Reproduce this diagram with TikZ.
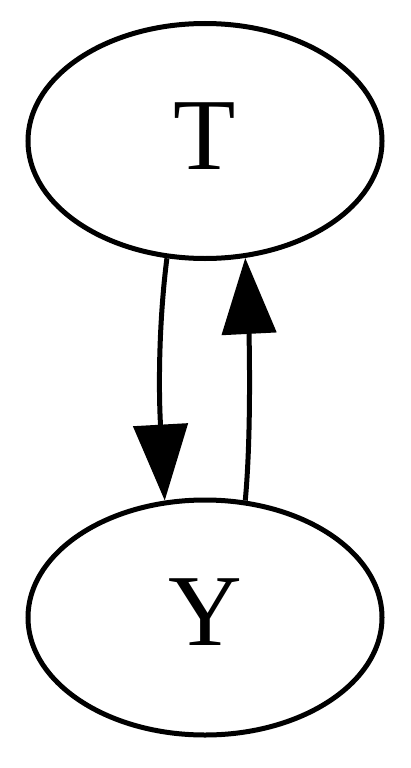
\documentclass[tikz,border=0pt]{standalone}
\usepackage{fontspec}
\setmainfont{Liberation Serif}
\usetikzlibrary{arrows.meta,shapes.geometric}
\begin{document}
\begin{tikzpicture}[x=1pt,y=-1pt,
  vnode/.style={ellipse,draw,line width=5pt,inner sep=0pt,minimum width=354pt,minimum height=235pt,
    font=\fontsize{102}{102}\selectfont,text depth=10pt},
  edge/.style={line width=5pt,-{Triangle[length=76pt,width=54pt]}}]
\useasboundingbox (0,0) rectangle (410,768);
\node[vnode] (T) at (205,141) {T};
\node[vnode] (Y) at (205,617.5) {Y};
\draw[edge] (T.-108.2) .. controls (159,320) and (158,390) .. (161,433) -- (Y.109);
\draw[edge] (Y.71.2) .. controls (250,450) and (250,380) .. (249,332) -- (T.-71.3);
\end{tikzpicture}
\end{document}
